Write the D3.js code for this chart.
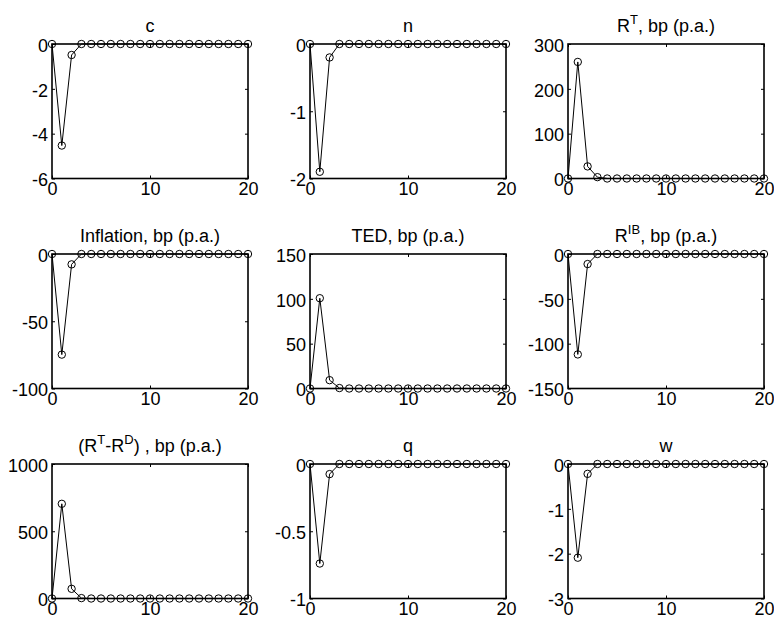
<!DOCTYPE html>
<html><head><meta charset="utf-8">
<script src="https://cdn.jsdelivr.net/npm/d3@7"></script>
<style>html,body{margin:0;padding:0;background:#fff;}svg{display:block;}</style>
</head><body>
<svg id="chart" width="774" height="618"></svg>
<script>
const periods = d3.range(0, 21);
const xTicks = [0, 10, 20];

const cValues    = [0, -4.53, -0.49, 0, 0, 0, 0, 0, 0, 0, 0, 0, 0, 0, 0, 0, 0, 0, 0, 0, 0];
const nValues    = [0, -1.9, -0.2, 0, 0, 0, 0, 0, 0, 0, 0, 0, 0, 0, 0, 0, 0, 0, 0, 0, 0];
const rtValues   = [0, 260, 27, 3, 0, 0, 0, 0, 0, 0, 0, 0, 0, 0, 0, 0, 0, 0, 0, 0, 0];
const inflValues = [0, -74.8, -7.7, 0, 0, 0, 0, 0, 0, 0, 0, 0, 0, 0, 0, 0, 0, 0, 0, 0, 0];
const tedValues  = [0, 100.7, 9.3, 0.5, 0, 0, 0, 0, 0, 0, 0, 0, 0, 0, 0, 0, 0, 0, 0, 0, 0];
const ribValues  = [0, -112, -11.2, 0, 0, 0, 0, 0, 0, 0, 0, 0, 0, 0, 0, 0, 0, 0, 0, 0, 0];
const spreadValues = [0, 704, 72, 3, 0, 0, 0, 0, 0, 0, 0, 0, 0, 0, 0, 0, 0, 0, 0, 0, 0];
const qValues    = [0, -0.74, -0.075, 0, 0, 0, 0, 0, 0, 0, 0, 0, 0, 0, 0, 0, 0, 0, 0, 0, 0];
const wValues    = [0, -2.09, -0.22, 0, 0, 0, 0, 0, 0, 0, 0, 0, 0, 0, 0, 0, 0, 0, 0, 0, 0];

// titles as [text, isSuperscript] segments
const titles = [
  [["c", false]],
  [["n", false]],
  [["R", false], ["T", true], [", bp (p.a.)", false]],
  [["Inflation, bp (p.a.)", false]],
  [["TED, bp (p.a.)", false]],
  [["R", false], ["IB", true], [", bp (p.a.)", false]],
  [["(R", false], ["T", true], ["-R", false], ["D", true], [") , bp (p.a.)", false]],
  [["q", false]],
  [["w", false]]
];
const yDomains = [[-6, 0], [-2, 0], [0, 300], [-100, 0], [0, 150], [-150, 0], [0, 1000], [-1, 0], [-3, 0]];
const yTickLists = [
  [-6, -4, -2, 0], [-2, -1, 0], [0, 100, 200, 300],
  [-100, -50, 0], [0, 50, 100, 150], [-150, -100, -50, 0],
  [0, 500, 1000], [-1, -0.5, 0], [-3, -2, -1, 0]
];
const seriesList = [cValues, nValues, rtValues, inflValues, tedValues, ribValues, spreadValues, qValues, wValues];

const svg = d3.select("#chart");
const colLeft = [52, 310, 568];
const rowTop = [44, 254, 464];
const W = 196, H = 134.5;
const font = "Liberation Sans, Arial, Helvetica, sans-serif";
const fs = 18;

seriesList.forEach((vals, i) => {
  const col = i % 3, row = Math.floor(i / 3);
  const g = svg.append("g").attr("transform", `translate(${colLeft[col]},${rowTop[row]})`);
  const x = d3.scaleLinear().domain([0, 20]).range([0, W]);
  const y = d3.scaleLinear().domain(yDomains[i]).range([H, 0]);

  const tl = 3;
  g.append("g").attr("transform", `translate(0,${H})`)
    .call(d3.axisBottom(x).tickValues(xTicks).tickSizeInner(-tl).tickSizeOuter(0).tickPadding(3).tickFormat(d => String(d)))
    .call(a => a.select(".domain").remove())
    .call(a => a.selectAll("text").attr("font-size", fs).attr("font-family", font).attr("fill", "#000").attr("dy", "0.75em"));
  g.append("g")
    .call(d3.axisTop(x).tickValues(xTicks).tickSizeInner(-tl).tickSizeOuter(0).tickFormat(""))
    .call(a => a.select(".domain").remove());
  g.append("g")
    .call(d3.axisLeft(y).tickValues(yTickLists[i]).tickSizeInner(-tl).tickSizeOuter(0).tickPadding(4).tickFormat(d => String(d)))
    .call(a => a.select(".domain").remove())
    .call(a => a.selectAll("text").attr("font-size", fs).attr("font-family", font).attr("fill", "#000").attr("dy", "0.4em"));
  g.append("g").attr("transform", `translate(${W},0)`)
    .call(d3.axisRight(y).tickValues(yTickLists[i]).tickSizeInner(-tl).tickSizeOuter(0).tickFormat(""))
    .call(a => a.select(".domain").remove());
  g.selectAll(".tick line").attr("stroke", "#000").attr("stroke-width", 1);

  g.append("rect").attr("x", 0).attr("y", 0).attr("width", W).attr("height", H)
    .attr("fill", "none").attr("stroke", "#000").attr("stroke-width", 1.6);

  const line = d3.line().x((d, j) => x(periods[j])).y(d => y(d));
  g.append("path").datum(vals).attr("d", line).attr("fill", "none").attr("stroke", "#000").attr("stroke-width", 1);
  g.selectAll("circle.m").data(vals).join("circle").attr("class", "m")
    .attr("cx", (d, j) => x(periods[j])).attr("cy", d => y(d)).attr("r", 3.7)
    .attr("fill", "none").attr("stroke", "#000").attr("stroke-width", 1);

  const t = g.append("text").attr("x", W / 2).attr("y", -12).attr("text-anchor", "middle")
    .attr("font-family", font).attr("font-size", fs).attr("fill", "#000");
  let sup = false;
  titles[i].forEach(([txt, isSup]) => {
    const sp = t.append("tspan").text(txt);
    if (isSup && !sup) { sp.attr("dy", -8).attr("font-size", 13); sup = true; }
    else if (!isSup && sup) { sp.attr("dy", 8); sup = false; }
    else if (isSup) sp.attr("font-size", 13);
  });
});
</script>
</body></html>
